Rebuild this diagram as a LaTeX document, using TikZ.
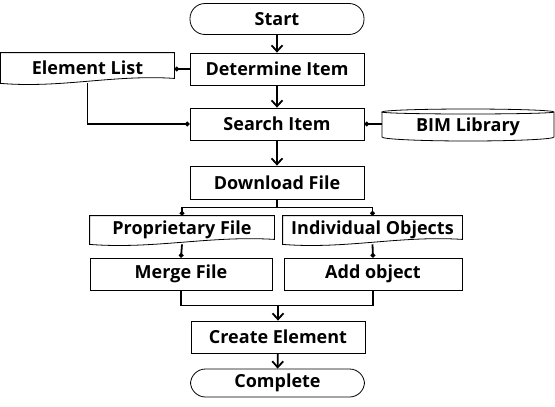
\documentclass[tikz,border=0pt]{standalone}
\usepackage{fontspec}
\setmainfont{Open Sans}
\usetikzlibrary{arrows.meta,calc}

\tikzset{
  box/.style={draw, line width=0.8pt, minimum width=174pt, minimum height=32pt, inner sep=0pt,
    font=\bfseries\fontsize{18}{21}\selectfont},
  term/.style={box, rounded corners=15pt},
  blank/.style={box, draw=none},
  flow/.style={line width=1.8pt, -{Straight Barb[length=6pt,width=11pt]}},
  link/.style={line width=1.8pt, -{Circle[length=4.5pt]}},
  wire/.style={line width=1.8pt},
}
% document shape (wavy bottom) round a blank node
\newcommand{\docshape}[1]{%
  \draw[line width=0.8pt] (#1.south west) -- (#1.north west) -- (#1.north east) -- ($(#1.south east)+(0,-5)$)
    .. controls ($(#1.south east)!0.35!(#1.south west)+(0,-9)$) and ($(#1.south west)!0.35!(#1.south east)+(0,5)$) .. cycle;}

\begin{document}
\begin{tikzpicture}[x=1pt,y=-1pt]
\useasboundingbox (0,0) rectangle (555,407);

% main column
\node[term, minimum height=31pt] (start) at (277,19) {Start};
\node[box] (determine) at (277,69) {Determine Item};
\node[box] (search) at (277,124) {Search Item};
\node[box, minimum height=33pt] (download) at (277,182.5) {Download File};
\node[box] (create) at (278,337) {Create Element};
\node[term, minimum height=28pt] (complete) at (277.5,383) {Complete};

% side data
\node[blank, minimum width=173pt, minimum height=30pt] (elemlist) at (87.5,68) {Element List};
\docshape{elemlist}
\node[blank, minimum width=172pt] (bim) at (468,127) {BIM Library};
\draw[line width=0.8pt] (382,112) -- (382,137) arc[start angle=180, end angle=0, x radius=86, y radius=4]
  -- (554,112) arc[start angle=0, end angle=-180, x radius=86, y radius=3]
  arc[start angle=180, end angle=0, x radius=86, y radius=2];

% two branches
\node[blank, minimum width=184pt, minimum height=28pt] (prop) at (182,230) {Proprietary File};
\docshape{prop}
\node[blank, minimum width=179pt, minimum height=28pt] (indiv) at (372.5,230) {Individual Objects};
\docshape{indiv}
\node[box, minimum width=182pt] (merge) at (181,274) {Merge File};
\node[box, minimum width=178pt] (add) at (373,274) {Add object};

% connectors
\draw[flow] (start) -- (determine);
\draw[flow] (determine) -- (search);
\draw[flow] (search) -- (download);
\draw[link] (determine.west) -- (determine.west -| elemlist.east);
\draw[link] (elemlist.south) |- (search.west);
\draw[link] (bim.west |- search.east) -- (search.east);

\coordinate (split) at ($(download.south)+(0,8)$);
\draw[wire] (download.south) -- (split);
\draw[link] (split) -| (prop.north);
\draw[link] (split) -| (indiv.north);
\draw[link] (prop.south) -- (merge.north);
\draw[link] (indiv.south) -- (add.north);

\coordinate (join) at ($(merge.south)!0.5!(add.south)+(0,15)$);
\draw[wire] (merge.south) |- (join) -| (add.south);
\draw[flow] (join -| create.north) -- (create.north);
\draw[flow] (create) -- (complete);
\end{tikzpicture}
\end{document}
